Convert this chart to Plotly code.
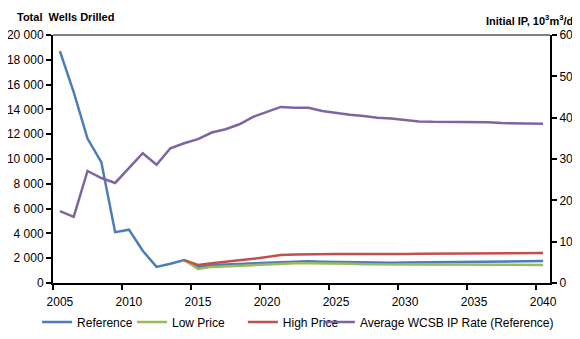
import plotly.graph_objects as go

years = list(range(2005, 2041))

reference = [18700, 15400, 11650, 9750, 4100, 4300, 2600, 1300, 1550, 1850,
             1300, 1450, 1500, 1550, 1600, 1650, 1700, 1750, 1750, 1720,
             1700, 1680, 1650, 1640, 1640, 1650, 1660, 1680, 1700, 1710,
             1720, 1730, 1740, 1750, 1760, 1770]
low_price = [None] * 9 + [1850,
             1130, 1300, 1330, 1380, 1440, 1500, 1560, 1600, 1600, 1600,
             1580, 1560, 1520, 1500, 1500, 1500, 1500, 1500, 1500, 1490,
             1480, 1470, 1460, 1450, 1450, 1450]
high_price = [None] * 9 + [1850,
              1450, 1600, 1700, 1800, 1950, 2100, 2250, 2300, 2330, 2350,
              2340, 2340, 2330, 2330, 2330, 2340, 2350, 2360, 2370, 2370,
              2370, 2370, 2380, 2390, 2400, 2420]
ip_rate = [17.4, 16.0, 27.1, 25.4, 24.2, 27.8, 31.4, 28.6, 32.6, 33.8,
           34.8, 36.4, 37.2, 38.4, 40.2, 41.4, 42.6, 42.4, 42.4, 41.6,
           41.1, 40.7, 40.4, 40.0, 39.8, 39.4, 39.1, 39.0, 39.0, 38.9,
           38.9, 38.9, 38.7, 38.6, 38.6, 38.5]

font = dict(family="Liberation Sans, Arial, sans-serif", size=12, color="#000000")
title_font = dict(family="Liberation Sans, Arial, sans-serif", size=11, color="#000000")

fig = go.Figure()
fig.add_trace(go.Scatter(x=years, y=reference, name="Reference", mode="lines",
                         line=dict(color="#4A7EBB", width=2.5), legend="legend"))
fig.add_trace(go.Scatter(x=years, y=low_price, name="Low Price", mode="lines",
                         line=dict(color="#9BBB59", width=2.5), legend="legend2"))
fig.add_trace(go.Scatter(x=years, y=high_price, name="High Price", mode="lines",
                         line=dict(color="#C0504D", width=2.5), legend="legend3"))
fig.add_trace(go.Scatter(x=years, y=ip_rate, name="Average WCSB IP Rate (Reference)",
                         mode="lines", yaxis="y2",
                         line=dict(color="#8064A2", width=2.5), legend="legend4"))


def legend_at(x):
    return dict(orientation="h", x=x, xanchor="left", y=-0.157, yanchor="middle",
                font=font, itemwidth=30, bgcolor="rgba(0,0,0,0)")


# the page body adds an 8px margin, so the figure is 8px smaller each way
fig.update_layout(
    width=572, height=331,
    margin=dict(l=45, r=30, t=27, b=56, autoexpand=False),
    paper_bgcolor="white", plot_bgcolor="white",
    font=font,
    separators=". ",
    xaxis=dict(range=[2004.5, 2040.5], tickmode="array",
               tickvals=list(range(2005, 2041, 5)), ticks="",
               showline=True, linecolor="black", linewidth=2,
               showgrid=False, zeroline=False, tickfont=font,
               ticklabelstandoff=7, automargin=False,
               minor=dict(tickmode="linear", tick0=2004.5, dtick=5,
                          ticks="outside", ticklen=5, tickcolor="black",
                          tickwidth=1.5, showgrid=False)),
    yaxis=dict(range=[0, 20000], dtick=2000, tickformat=",d",
               ticks="outside", ticklen=5, tickcolor="black", tickwidth=1.5,
               showline=True, linecolor="black", linewidth=2,
               showgrid=False, zeroline=False, tickfont=font,
               automargin=False),
    yaxis2=dict(range=[0, 60], dtick=10, overlaying="y", side="right",
                ticks="outside", ticklen=5, tickcolor="black", tickwidth=1.5,
                showline=True, linecolor="black", linewidth=2,
                showgrid=False, zeroline=False, tickfont=font,
                automargin=False),
    legend=legend_at(-0.032),
    legend2=legend_at(0.159),
    legend3=legend_at(0.382),
    legend4=legend_at(0.537),
    showlegend=True,
)

fig.add_shape(type="line", xref="paper", yref="paper", x0=0, x1=1, y0=1, y1=1,
              line=dict(color="black", width=1))

fig.add_annotation(text="<b>Total  Wells Drilled</b>", xref="paper", yref="paper",
                   x=-0.0765, y=1.0, yshift=18, xanchor="left", yanchor="middle",
                   showarrow=False, font=title_font)
fig.add_annotation(text="<b>Initial IP, 10<sup>3</sup>m<sup>3</sup>/d</b>",
                   xref="paper", yref="paper", x=1.05, y=1.0, yshift=15,
                   xanchor="right", yanchor="middle", showarrow=False, font=title_font)

fig.write_html("out.html")
